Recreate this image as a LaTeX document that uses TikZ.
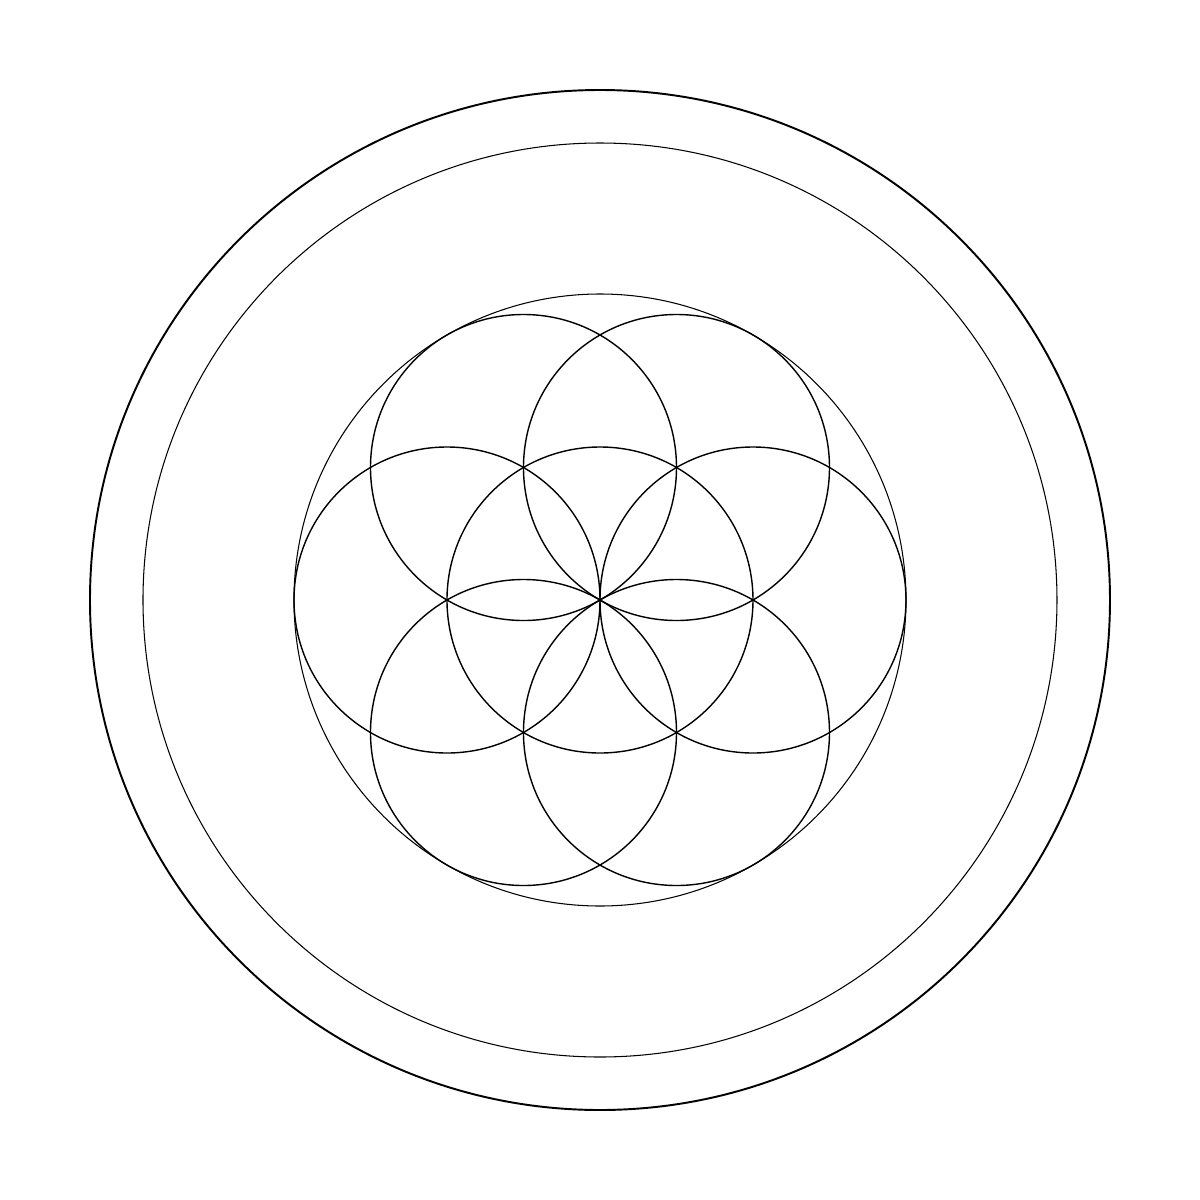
\documentclass[tikz,border=0pt]{standalone}
\tikzset{
  ring/.style={line width=0.55pt},
  thinring/.style={line width=0.3pt},
  petal/.style={line width=0.4pt}
}
\begin{document}
\begin{tikzpicture}
    \useasboundingbox (-6, -6) rectangle (6, 6);
    \coordinate (o) at (0, 0);
    \draw [ring] (o) circle (5.1);
    \draw [thinring] (o) circle (4.57);
    \draw [thinring] (o) circle (3.06);
    \draw [petal] (o) circle (1.53);
    \foreach \a in {0, 60, ..., 300}
      \draw [petal] (\a:1.53) circle (1.53);
  \end{tikzpicture}
\end{document}
